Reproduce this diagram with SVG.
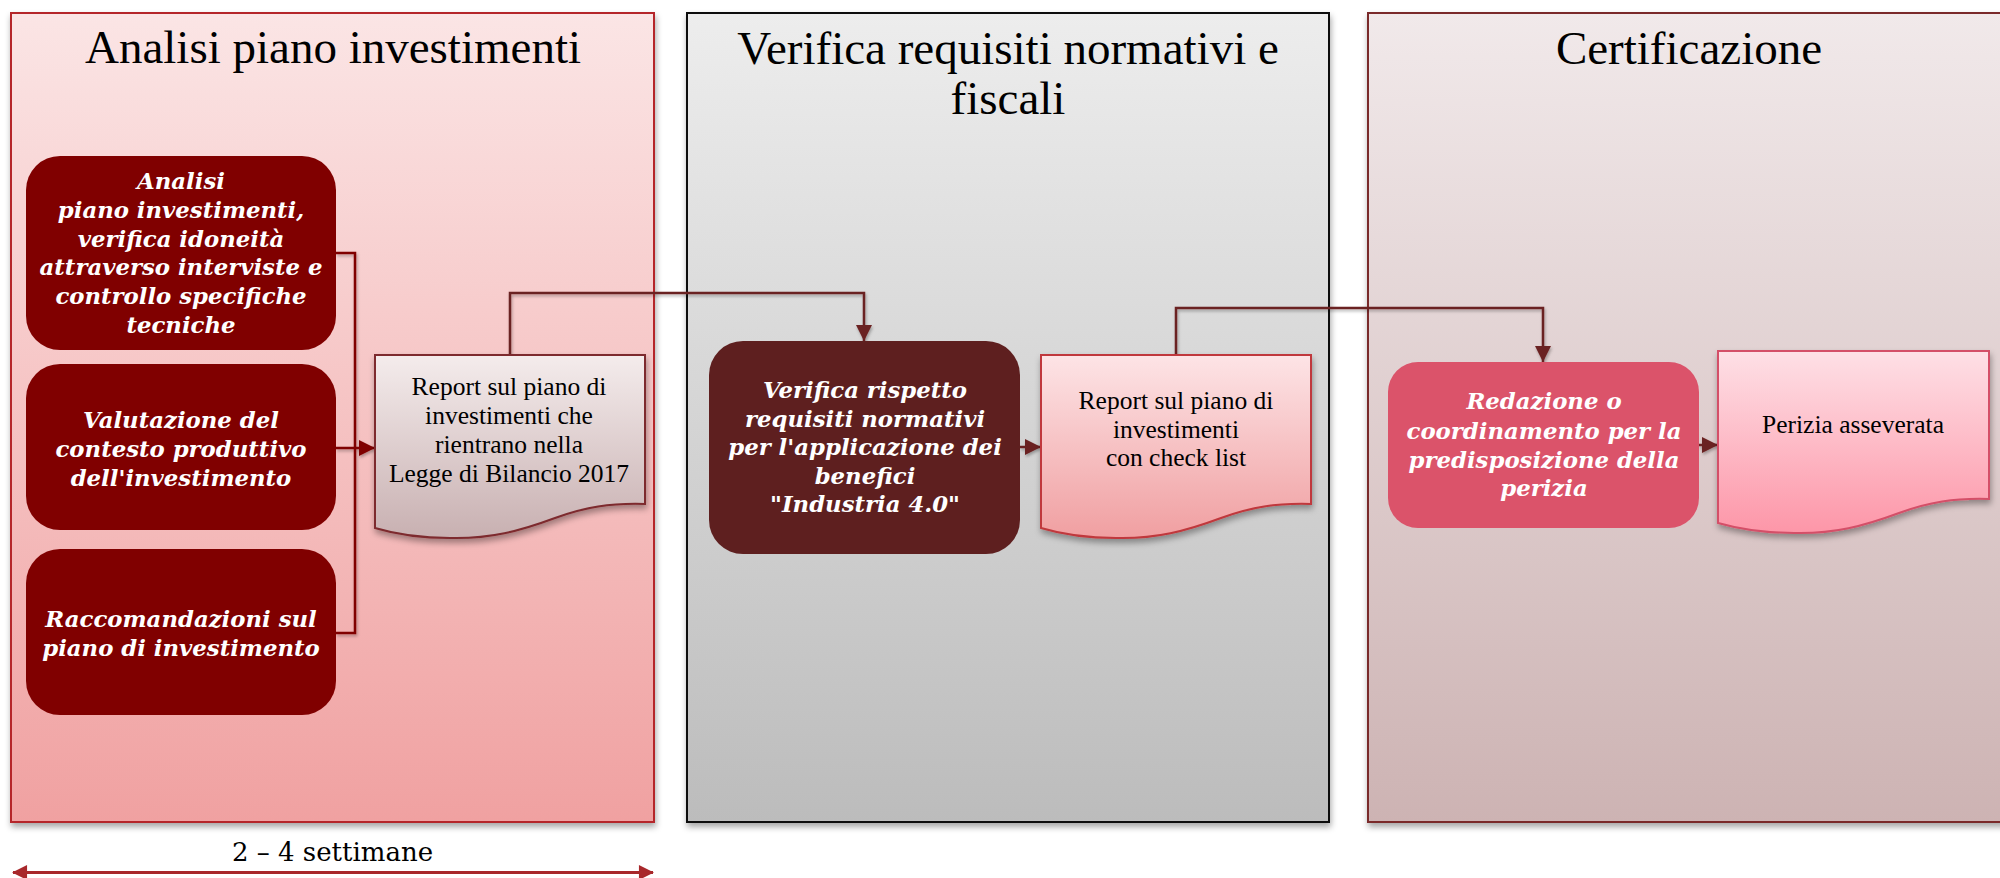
<svg xmlns="http://www.w3.org/2000/svg" width="2000" height="878" viewBox="0 0 2000 878">
  <defs>
    <linearGradient id="gPanel1" x1="0" y1="0" x2="0" y2="1">
      <stop offset="0" stop-color="#fbe5e5"/>
      <stop offset="1" stop-color="#f0a1a1"/>
    </linearGradient>
    <linearGradient id="gPanel2" x1="0" y1="0" x2="0" y2="1">
      <stop offset="0" stop-color="#ededed"/>
      <stop offset="1" stop-color="#bcbcbc"/>
    </linearGradient>
    <linearGradient id="gPanel3" x1="0" y1="0" x2="0" y2="1">
      <stop offset="0" stop-color="#f1e9ea"/>
      <stop offset="1" stop-color="#cdb3b3"/>
    </linearGradient>
    <linearGradient id="gDoc1" x1="0" y1="0" x2="0" y2="1">
      <stop offset="0" stop-color="#f4ecec"/>
      <stop offset="1" stop-color="#c8b0b1"/>
    </linearGradient>
    <linearGradient id="gDoc2" x1="0" y1="0" x2="0" y2="1">
      <stop offset="0" stop-color="#fde4e6"/>
      <stop offset="1" stop-color="#f09fa1"/>
    </linearGradient>
    <linearGradient id="gDoc3" x1="0" y1="0" x2="0" y2="1">
      <stop offset="0" stop-color="#fee0e6"/>
      <stop offset="1" stop-color="#fd96a8"/>
    </linearGradient>
    <filter id="shadow" x="-5%" y="-5%" width="112%" height="115%">
      <feDropShadow dx="1" dy="4" stdDeviation="3" flood-color="#000" flood-opacity="0.35"/>
    </filter>
    <filter id="lineShadow" x="-10%" y="-10%" width="120%" height="130%">
      <feDropShadow dx="1" dy="2" stdDeviation="1.5" flood-color="#000" flood-opacity="0.3"/>
    </filter>
    <marker id="arrowRed" viewBox="0 0 16 16" refX="16" refY="8" markerWidth="16" markerHeight="16" markerUnits="userSpaceOnUse" orient="auto">
      <path d="M0,0 L16,8 L0,16 Z" fill="#800000"/>
    </marker>
    <marker id="arrowDark" viewBox="0 0 16 16" refX="16" refY="8" markerWidth="16" markerHeight="16" markerUnits="userSpaceOnUse" orient="auto">
      <path d="M0,0 L16,8 L0,16 Z" fill="#6b2020"/>
    </marker>
    <marker id="arrowSpan" viewBox="0 0 16 16" refX="15" refY="8" markerWidth="16" markerHeight="15" markerUnits="userSpaceOnUse" orient="auto-start-reverse">
      <path d="M0,0 L16,8 L0,16 Z" fill="#a8282b"/>
    </marker>
    <style>
      .title { font-family: "Liberation Serif", "Times New Roman", serif; font-size: 47px; fill: #000; text-anchor: middle; }
      .step { font-family: "DejaVu Serif", "Liberation Serif", serif; font-size: 22.8px; font-weight: bold; font-style: italic; fill: #fff; text-anchor: middle; }
      .doc { font-family: "Liberation Serif", "Times New Roman", serif; font-size: 25.5px; fill: #000; text-anchor: middle; }
      .span { font-family: "DejaVu Serif", "Liberation Serif", serif; font-size: 26px; fill: #000; text-anchor: middle; }
      .conn { fill: none; stroke-width: 2.5; }
    </style>
  </defs>

  <!-- phase lanes -->
  <g id="lane-analisi">
    <rect x="11" y="13" width="643" height="809" fill="url(#gPanel1)" stroke="#b5282c" stroke-width="2" filter="url(#shadow)"/>
    <text class="title" x="333" y="63">Analisi piano investimenti</text>
  </g>
  <g id="lane-verifica">
    <rect x="687" y="13" width="642" height="809" fill="url(#gPanel2)" stroke="#111" stroke-width="2" filter="url(#shadow)"/>
    <text class="title" x="1008" y="64">Verifica requisiti normativi e</text>
    <text class="title" x="1008" y="114">fiscali</text>
  </g>
  <g id="lane-certificazione">
    <rect x="1368" y="13" width="700" height="809" fill="url(#gPanel3)" stroke="#7a2a2a" stroke-width="2" filter="url(#shadow)"/>
    <text class="title" x="1689" y="64">Certificazione</text>
  </g>

  <!-- connectors -->
  <g id="connectors" filter="url(#lineShadow)">
    <path class="conn" stroke="#800000" d="M336,253 H355 V633 H336"/>
    <path class="conn" stroke="#800000" d="M336,448 H375" marker-end="url(#arrowRed)"/>
    <path class="conn" stroke="#6b2020" d="M510,355 V293 H864 V341" marker-end="url(#arrowDark)"/>
    <path class="conn" stroke="#6b2020" d="M1020,447 H1041" marker-end="url(#arrowDark)"/>
    <path class="conn" stroke="#6b2020" d="M1176,355 V308 H1543 V362" marker-end="url(#arrowDark)"/>
    <path class="conn" stroke="#6b2020" d="M1699,445 H1718" marker-end="url(#arrowDark)"/>
  </g>

  <!-- steps: analisi -->
  <g id="step-analisi">
    <rect x="26" y="156" width="310" height="194" rx="34" fill="#800000"/>
    <text class="step" x="181" y="189">Analisi</text>
    <text class="step" x="181" y="218">piano investimenti,</text>
    <text class="step" x="181" y="247">verifica idoneità</text>
    <text class="step" x="181" y="275">attraverso interviste e</text>
    <text class="step" x="181" y="304">controllo specifiche</text>
    <text class="step" x="181" y="333">tecniche</text>
  </g>
  <g id="step-valutazione">
    <rect x="26" y="364" width="310" height="166" rx="34" fill="#800000"/>
    <text class="step" x="181" y="428">Valutazione del</text>
    <text class="step" x="181" y="457">contesto produttivo</text>
    <text class="step" x="181" y="486">dell'investimento</text>
  </g>
  <g id="step-raccomandazioni">
    <rect x="26" y="549" width="310" height="166" rx="34" fill="#800000"/>
    <text class="step" x="181" y="627">Raccomandazioni sul</text>
    <text class="step" x="181" y="656">piano di investimento</text>
  </g>
  <g id="doc-report-bilancio">
    <path d="M375,355 H645 V504 C610,503 585,507 555,518 C520,531 490,539 450,538 C420,538 395,534 375,528 Z" fill="url(#gDoc1)" stroke="#7d2a2e" stroke-width="2" filter="url(#shadow)"/>
    <text class="doc" x="509" y="395">Report sul piano di</text>
    <text class="doc" x="509" y="424">investimenti che</text>
    <text class="doc" x="509" y="453">rientrano nella</text>
    <text class="doc" x="509" y="482">Legge di Bilancio 2017</text>
  </g>

  <!-- steps: verifica -->
  <g id="step-verifica">
    <rect x="709" y="341" width="311" height="213" rx="34" fill="#5e1f1f"/>
    <text class="step" x="865" y="398">Verifica rispetto</text>
    <text class="step" x="865" y="427">requisiti normativi</text>
    <text class="step" x="865" y="455">per l'applicazione dei</text>
    <text class="step" x="865" y="484">benefici</text>
    <text class="step" x="865" y="512">"Industria 4.0"</text>
  </g>
  <g id="doc-report-checklist">
    <path d="M1041,355 H1311 V504 C1276,503 1251,507 1221,518 C1186,531 1156,539 1116,538 C1086,538 1061,534 1041,528 Z" fill="url(#gDoc2)" stroke="#c0383c" stroke-width="2" filter="url(#shadow)"/>
    <text class="doc" x="1176" y="409">Report sul piano di</text>
    <text class="doc" x="1176" y="437.5">investimenti</text>
    <text class="doc" x="1176" y="466">con check list</text>
  </g>

  <!-- steps: certificazione -->
  <g id="step-redazione">
    <rect x="1388" y="362" width="311" height="166" rx="30" fill="#db536a"/>
    <text class="step" x="1544" y="409">Redazione o</text>
    <text class="step" x="1544" y="438.5">coordinamento per la</text>
    <text class="step" x="1544" y="468">predisposizione della</text>
    <text class="step" x="1544" y="496">perizia</text>
  </g>
  <g id="doc-perizia">
    <path d="M1718,351 H1989 V499 C1954,498 1929,502 1899,513 C1864,526 1834,534 1794,533 C1764,533 1739,529 1718,523 Z" fill="url(#gDoc3)" stroke="#d44f68" stroke-width="2" filter="url(#shadow)"/>
    <text class="doc" x="1853" y="433">Perizia asseverata</text>
  </g>

  <!-- duration of the first phase -->
  <g id="duration">
    <text class="span" x="332.5" y="861">2 – 4 settimane</text>
    <path d="M13,872.5 H653" fill="none" stroke="#a8282b" stroke-width="3" marker-start="url(#arrowSpan)" marker-end="url(#arrowSpan)"/>
  </g>
</svg>
